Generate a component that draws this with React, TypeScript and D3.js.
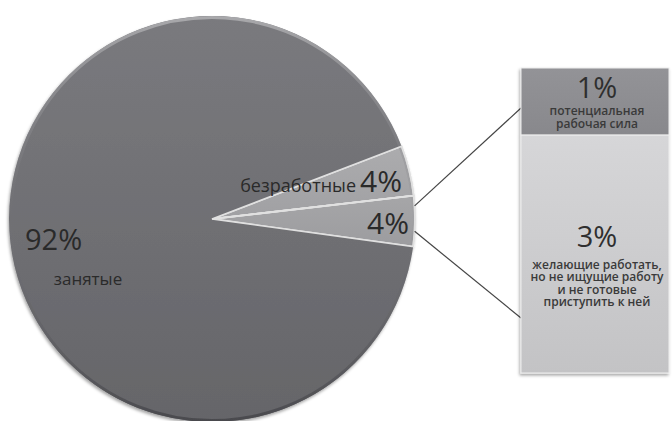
import React from "react";
import * as d3 from "d3";

// ---- data ----
const pieCategories = ["безработные", "split", "занятые"];
const pieValues = [4, 4, 92];
const pieLabels = ["4%", "4%", "92%"];
const subCategories = ["потенциальная рабочая сила", "желающие работать, но не ищущие работу и не готовые приступить к ней"];
const subValues = [0.88, 3.12];
const subLabels = ["1%", "3%"];
const subTextLines = [
  ["потенциальная", "рабочая сила"],
  ["желающие работать,", "но не ищущие работу", "и не готовые", "приступить к ней"],
];

// ---- layout ----
const W = 672, H = 421;
const cx = 212, cy = 219, R = 203;
const startDeg = 69;
const barX0 = 521, barX1 = 669, barY0 = 68, barY1 = 373;
const FONT = "'Open Sans', 'Noto Sans', sans-serif";

export default function App() {
  const pie = d3
    .pie<number>()
    .sort(null)
    .value((d) => d)
    .startAngle((startDeg * Math.PI) / 180)
    .endAngle((startDeg * Math.PI) / 180 + 2 * Math.PI);
  const arcs = pie(pieValues);
  const arc = d3.arc<d3.PieArcDatum<number>>().innerRadius(0).outerRadius(R);

  const y = d3.scaleLinear().domain([0, d3.sum(subValues)]).range([barY0, barY1]);
  let acc = 0;
  const segs = subValues.map((v) => {
    const s = { y0: y(acc), y1: y(acc + v) };
    acc += v;
    return s;
  });

  const split = arcs[1];
  const span = split.endAngle - split.startAngle;
  const pt = (a: number) => [cx + R * Math.sin(a), cy - R * Math.cos(a)];
  const c1 = pt(split.startAngle + 0.2 * span);
  const c2 = pt(split.startAngle + 0.7 * span);

  const fills = ["url(#gLight1)", "url(#gLight2)", "url(#gDark)"];

  return (
    <svg width={W} height={H} style={{ position: "absolute", left: 0, top: 0, background: "#fff" }} fontFamily={FONT}>
      <defs>
        <linearGradient id="gDark" x1="0" y1="0" x2="0" y2="1">
          <stop offset="0" stopColor="#7a7a7e" />
          <stop offset="1" stopColor="#656569" />
        </linearGradient>
        <linearGradient id="gLight1" x1="0" y1="0" x2="0" y2="1">
          <stop offset="0" stopColor="#acacae" />
          <stop offset="1" stopColor="#a0a0a3" />
        </linearGradient>
        <linearGradient id="gLight2" x1="0" y1="0" x2="0" y2="1">
          <stop offset="0" stopColor="#a6a6a8" />
          <stop offset="1" stopColor="#9c9c9f" />
        </linearGradient>
        <linearGradient id="gRim" x1="0" y1="0" x2="0" y2="1">
          <stop offset="0" stopColor="#a8a8ab" />
          <stop offset="0.5" stopColor="#77777b" stopOpacity="0" />
          <stop offset="1" stopColor="#4a4a4e" />
        </linearGradient>
        <linearGradient id="gBarTop" x1="0" y1="0" x2="0" y2="1">
          <stop offset="0" stopColor="#939397" />
          <stop offset="1" stopColor="#88888c" />
        </linearGradient>
        <linearGradient id="gBarBot" x1="0" y1="0" x2="0" y2="1">
          <stop offset="0" stopColor="#d6d6d8" />
          <stop offset="1" stopColor="#c3c3c5" />
        </linearGradient>
        <filter id="shadow" x="-10%" y="-10%" width="120%" height="120%">
          <feDropShadow dx="-1" dy="2" stdDeviation="1.5" floodColor="#000" floodOpacity="0.35" />
        </filter>
      </defs>

      {/* pie */}
      <g transform={`translate(${cx},${cy})`} filter="url(#shadow)">
        {arcs.map((a, i) => (
          <path key={pieCategories[i]} d={arc(a) || ""} fill={fills[i]} stroke="#e2e2e2" strokeWidth={i === 2 ? 0 : 1.8} />
        ))}
        <circle r={R - 1.5} fill="none" stroke="url(#gRim)" strokeWidth={3} />
      </g>
      <g transform={`translate(${cx},${cy})`}>
        {arcs.slice(0, 2).map((a, i) => (
          <path key={"b" + i} d={arc(a) || ""} fill="none" stroke="#e0e0e0" strokeWidth={1.6} />
        ))}
      </g>

      {/* connectors */}
      <line x1={c1[0]} y1={c1[1]} x2={barX0} y2={barY0 + 40} stroke="#444" strokeWidth={1.2} />
      <line x1={c2[0]} y1={c2[1]} x2={barX0} y2={barY1 - 55} stroke="#444" strokeWidth={1.2} />

      {/* bar */}
      <g filter="url(#shadow)">
        {segs.map((s, i) => (
          <rect key={subCategories[i]} x={barX0} y={s.y0} width={barX1 - barX0} height={s.y1 - s.y0}
            fill={i === 0 ? "url(#gBarTop)" : "url(#gBarBot)"} stroke="#eeeeee" strokeWidth={1} />
        ))}
      </g>

      {/* pie labels */}
      <text x={25} y={250} fontSize={29} fill="#2a2a2a">{pieLabels[2]}</text>
      <text x={88} y={285} fontSize={17} fill="#2a2a2a" textAnchor="middle">{pieCategories[2]}</text>
      <text x={356} y={192} fontSize={18} fill="#2a2a2a" textAnchor="end">{pieCategories[0]}</text>
      <text x={360} y={192} fontSize={30} fill="#2a2a2a">{pieLabels[0]}</text>
      <text x={367} y={234} fontSize={30} fill="#2a2a2a">{pieLabels[1]}</text>

      {/* bar labels */}
      {segs.map((s, i) => {
        const mid = (barX0 + barX1) / 2 + 2;
        const top = i === 0 ? s.y0 + 30 : s.y0 + 112;
        const first = i === 0 ? 17 : 22;
        const step = i === 0 ? 12.8 : 12.3;
        return (
          <g key={"t" + i}>
            <text x={mid} y={top} fontSize={29} fill="#2f2f2f" textAnchor="middle">{subLabels[i]}</text>
            {subTextLines[i].map((ln, j) => (
              <text key={j} x={mid} y={top + first + j * step} fontSize={12} fontWeight={600}
                fill="#3a3a3a" textAnchor="middle">{ln}</text>
            ))}
          </g>
        );
      })}
    </svg>
  );
}
